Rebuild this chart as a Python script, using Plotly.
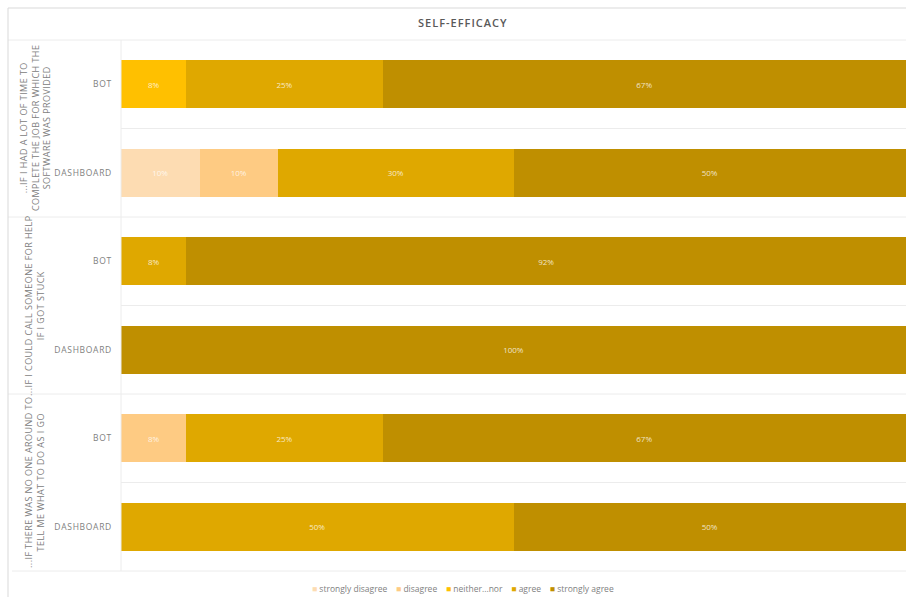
import plotly.graph_objects as go

# ---------------- data ----------------
groups = [
    "...IF I HAD A LOT OF TIME TO<br>COMPLETE THE JOB FOR WHICH THE<br>SOFTWARE WAS PROVIDED",
    "...IF I COULD CALL SOMEONE FOR HELP<br>IF I GOT STUCK",
    "...IF THERE WAS NO ONE AROUND TO<br>TELL ME WHAT TO DO AS I GO",
]
row_labels = ["BOT", "DASHBOARD", "BOT", "DASHBOARD", "BOT", "DASHBOARD"]
series_names = ["strongly disagree", "disagree", "neither...nor", "agree", "strongly agree"]
series_colors = ["#FDDCB2", "#FECB83", "#FFC000", "#DFA800", "#BF8F00"]

strongly_disagree = [None, 10, None, None, None, None]
disagree = [None, 10, None, None, 8.33, None]
neither_nor = [8.33, None, None, None, None, None]
agree = [25, 30, 8.33, None, 25, 50]
strongly_agree = [66.67, 50, 91.67, 100, 66.67, 50]
series_values = [strongly_disagree, disagree, neither_nor, agree, strongly_agree]

title_text = "SELF-EFFICACY"

# ---------------- figure ----------------
W, H = 906, 597
ML, MR, MT, MB = 121, 0, 40, 26
PW, PH = W - ML - MR, H - MT - MB

def px_x(p):
    return (p - ML) / PW

def px_y(p):
    return (H - MB - p) / PH

def spaced(s, ls):
    return "<br>".join(f"<span style='letter-spacing:{ls}px'>{part}</span>" for part in s.split("<br>"))

fig = go.Figure()
ypos = list(range(len(row_labels)))
for name, color, vals in zip(series_names, series_colors, series_values):
    fig.add_trace(go.Bar(
        y=ypos, x=vals, name=name, orientation="h",
        marker=dict(color=color, line=dict(width=0)),
        text=[None if v is None else f"{v:.0f}%" for v in vals],
        textposition="inside", insidetextanchor="middle",
        textangle=0, constraintext="none",
        textfont=dict(family="Open Sans", size=8, color="rgba(255,255,255,0.78)"),
        showlegend=False, hoverinfo="skip",
    ))

frame_col = "#d9d9d9"
grid_col = "#ececec"
shapes = []
n = len(row_labels)
# row separators
for k in range(1, n):
    yp = 1 - k / n
    x0 = px_x(8) if k % 2 == 0 else 0
    shapes.append(dict(type="line", xref="paper", yref="paper", x0=x0, x1=1,
                       y0=yp, y1=yp, line=dict(color=grid_col, width=1)))
# bottom line
shapes.append(dict(type="line", xref="paper", yref="paper", x0=px_x(12), x1=1,
                   y0=0, y1=0, line=dict(color=grid_col, width=1)))
# top of plot / title band bottom
shapes.append(dict(type="line", xref="paper", yref="paper", x0=px_x(8), x1=1,
                   y0=1, y1=1, line=dict(color=grid_col, width=1)))
# outer frame
shapes.append(dict(type="line", xref="paper", yref="paper", x0=px_x(8), x1=1,
                   y0=px_y(8), y1=px_y(8), line=dict(color=frame_col, width=1)))
shapes.append(dict(type="line", xref="paper", yref="paper", x0=px_x(8), x1=px_x(8),
                   y0=px_y(8), y1=px_y(597), line=dict(color=frame_col, width=1)))
# axis vertical line
shapes.append(dict(type="line", xref="paper", yref="paper", x0=0, x1=0,
                   y0=0, y1=1, line=dict(color=grid_col, width=1)))

annotations = []
for gi, g in enumerate(groups):
    yc = 1 - (2 * gi + 1) / n
    annotations.append(dict(
        text=spaced(g, 0.45), xref="paper", yref="paper", x=px_x(34.5), y=yc,
        xanchor="center", yanchor="middle", textangle=-90, showarrow=False,
        font=dict(family="Open Sans", size=9, color="#808080"), align="center"))

annotations.append(dict(
    text=spaced(title_text, 1), xref="paper", yref="paper", x=px_x(463), y=px_y(22),
    xanchor="center", yanchor="middle", showarrow=False,
    font=dict(family="Open Sans", size=11, color="#595959", weight=600)))

legend_parts = [f"<span style='color:{c}'>■</span> {nm}" for nm, c in zip(series_names, series_colors)]
annotations.append(dict(
    text="    ".join(legend_parts), xref="paper", yref="paper",
    x=px_x(463), y=px_y(588), xanchor="center", yanchor="middle", showarrow=False,
    font=dict(family="Open Sans", size=8.5, color="#7f7f7f")))

fig.update_layout(
    width=W, height=H,
    margin=dict(l=ML, r=MR, t=MT, b=MB, pad=0),
    barmode="stack", bargap=0.455,
    paper_bgcolor="white", plot_bgcolor="white",
    shapes=shapes, annotations=annotations,
    showlegend=False,
    xaxis=dict(range=[0, 100], visible=False, fixedrange=True),
    yaxis=dict(range=[n - 0.5, -0.5], tickmode="array", tickvals=ypos,
               ticktext=[spaced(t, 0.7) for t in row_labels], showgrid=False, zeroline=False,
               showline=False, ticks="", ticklabelstandoff=8,
               tickfont=dict(family="Open Sans", size=8.5, color="#7f7f7f")),
)

fig.write_html("out.html")
